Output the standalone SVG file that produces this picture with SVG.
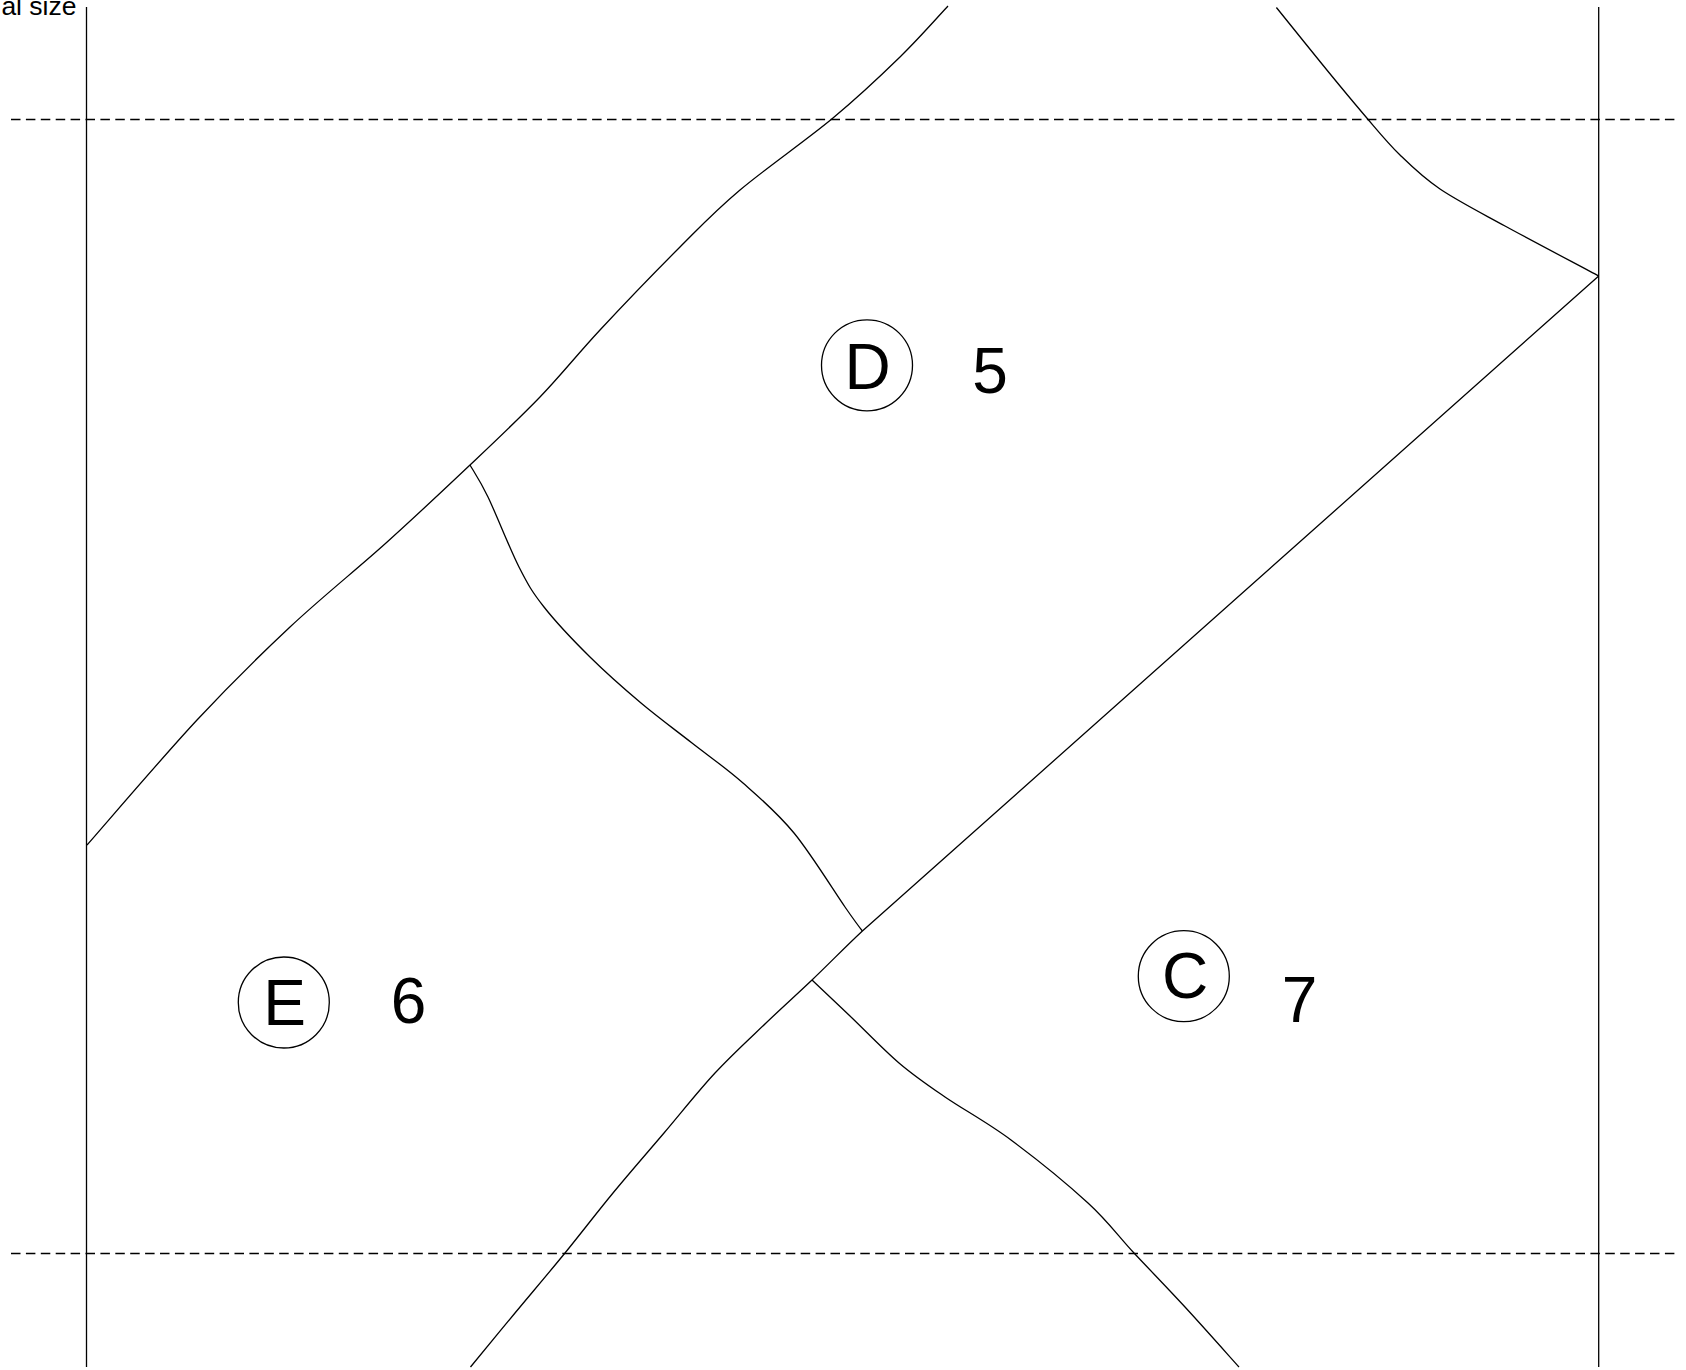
<svg xmlns="http://www.w3.org/2000/svg" width="1686" height="1370" viewBox="0 0 1686 1370">
<style>
.ln{fill:none;stroke:#000;stroke-width:1.3;stroke-linejoin:round;stroke-linecap:butt}
.dash{fill:none;stroke:#000;stroke-width:1.3;stroke-dasharray:9.5,5.4}
.ring{fill:none;stroke:#000;stroke-width:1.3}
.lbl{font-family:"Liberation Sans",Arial,sans-serif;font-size:64px;fill:#000;text-anchor:middle}
.cap{font-family:"Liberation Sans",Arial,sans-serif;font-size:26.5px;fill:#000;text-anchor:end}
</style>
<rect width="1686" height="1370" fill="#fff"/>
<text class="cap" x="76.5" y="15">al size</text>
<g id="frame">
<line class="ln" x1="86.5" y1="7" x2="86.5" y2="1367"/>
<line class="ln" x1="1598.7" y1="7" x2="1598.7" y2="1367"/>
<line class="dash" x1="11" y1="119.5" x2="1676" y2="119.5"/>
<line class="dash" x1="11" y1="1253.5" x2="1676" y2="1253.5"/>
</g>
<g id="connectors">
<path class="ln" d="M948,6 C940,14.5 919.2,38.3 900,57 C880.8,75.7 859.7,95.8 833,118 C806.3,140.2 765.5,168.5 740,190 C714.5,211.5 703.3,223.7 680,247 C656.7,270.3 623.3,305 600,330 C576.7,355 561.7,374.5 540,397 C518.3,419.5 495.7,440.7 470,465 C444.3,489.3 416,516 386,543 C356,570 321.5,597.5 290,627 C258.5,656.5 230.8,683.7 197,720 C163.2,756.3 105.3,824.2 87,845"/>
<path class="ln" d="M470,465 C473,470.3 479.8,480 488,497 C496.2,514 509.7,548.7 519,567 C528.3,585.3 532.2,592 544,607 C555.8,622 573.8,641 590,657 C606.2,673 624,688.7 641,703 C658,717.3 675,729.7 692,743 C709,756.3 726,768 743,783 C760,798 777,812.3 794,833 C811,853.7 833.7,890.7 845,907 C856.3,923.3 859.2,927 862.4,931"/>
<path class="ln" d="M1598.7,276 L862.4,931 C845.7,946.5 828.1,964.7 812,980 C795.9,995.3 782.2,1007.5 766,1023 C749.8,1038.5 732,1054.7 715,1073 C698,1091.3 681,1113 664,1133 C647,1153 629.5,1173 613,1193 C596.5,1213 581.3,1233 565,1253 C548.7,1273 530.75,1294 515,1313 C499.25,1332 477.9,1358 470.5,1367"/>
<path class="ln" d="M812,980 C818.3,986 835.5,1002.2 850,1016 C864.5,1029.8 883.2,1049.5 899,1063 C914.8,1076.5 926.3,1084.2 945,1097 C963.7,1109.8 987.2,1122.3 1011,1140 C1034.8,1157.7 1067.5,1184.2 1088,1203 C1108.5,1221.8 1117.8,1235.7 1134,1253 C1150.2,1270.3 1167.5,1288 1185,1307 C1202.5,1326 1230,1357 1239,1367"/>
<path class="ln" d="M1598.7,276 C1583.3,267.7 1531.5,240.5 1505,226 C1478.5,211.5 1457.5,200.8 1440,189 C1422.5,177.2 1412.3,167 1400,155 C1387.7,143 1379,132.2 1366,117 C1353,101.8 1336.9,82.3 1322,64 C1307.1,45.7 1284,16.9 1276.4,7.5"/>
</g>
<g id="node-D">
<circle class="ring" cx="867" cy="365.3" r="45.5"/>
<text class="lbl" x="867.5" y="389.3">D</text>
</g>
<g id="num-5"><text class="lbl" x="990" y="392.5">5</text></g>
<g id="node-E">
<circle class="ring" cx="283.8" cy="1002.5" r="45.5"/>
<text class="lbl" x="284.5" y="1025">E</text>
</g>
<g id="num-6"><text class="lbl" x="408.5" y="1022.5">6</text></g>
<g id="node-C">
<circle class="ring" cx="1183.8" cy="976.2" r="45.5"/>
<text class="lbl" x="1185" y="997.5">C</text>
</g>
<g id="num-7"><text class="lbl" x="1299.5" y="1021.5">7</text></g>
</svg>
